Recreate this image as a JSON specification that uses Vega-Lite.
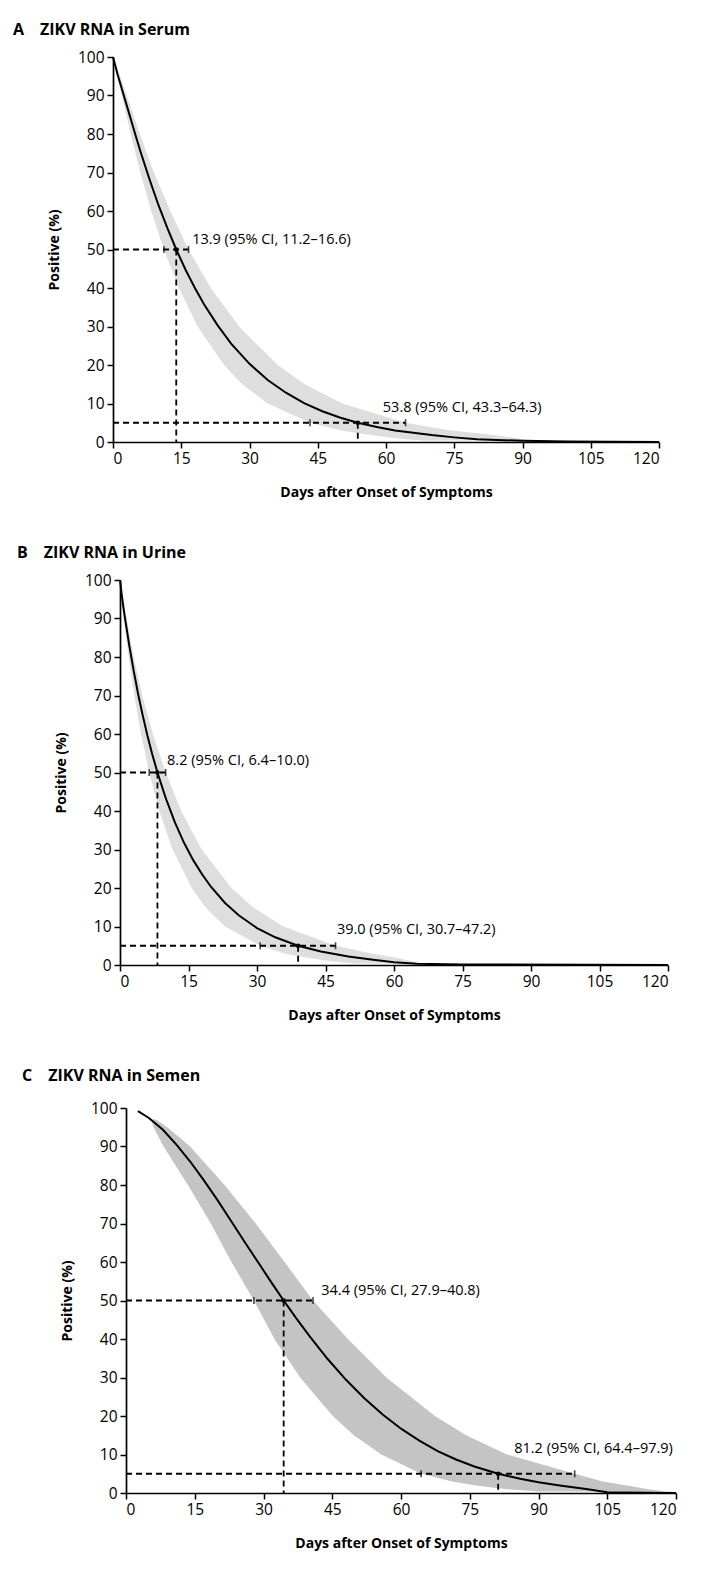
{
  "$schema": "https://vega.github.io/schema/vega-lite/v6.json",
  "background": "white",
  "padding": {"left": 12, "top": 22, "right": 0, "bottom": 0},
  "spacing": 45,
  "config": {
    "view": {"stroke": null},
    "font": "Open Sans",
    "axis": {
      "grid": false,
      "domainColor": "black",
      "domainWidth": 1.7,
      "tickColor": "black",
      "tickWidth": 1.5,
      "tickSize": 6,
      "labelColor": "black",
      "labelFont": "Open Sans",
      "labelFontSize": 15.5,
      "labelPadding": 3,
      "labelOverlap": false,
      "titleColor": "black",
      "titleFont": "Open Sans",
      "titleFontSize": 14,
      "titleFontWeight": "bold"
    },
    "axisX": {"titlePadding": 19},
    "axisY": {"titlePadding": 16},
    "title": {"anchor": "start", "frame": "group", "offset": 12, "font": "Open Sans", "fontSize": 16, "fontWeight": "bold", "color": "black"}
  },
  "datasets": {
    "curveA": [
      {"day": 0, "pct": 100}, {"day": 1, "pct": 95.5}, {"day": 2, "pct": 91.5}, {"day": 3, "pct": 87.5},
      {"day": 4, "pct": 83.5}, {"day": 5, "pct": 79.5}, {"day": 6, "pct": 75.6}, {"day": 8, "pct": 68.3},
      {"day": 10, "pct": 61.5}, {"day": 12, "pct": 55.4}, {"day": 13.9, "pct": 50}, {"day": 16, "pct": 44.6},
      {"day": 18, "pct": 40}, {"day": 20, "pct": 35.8}, {"day": 23, "pct": 30.3}, {"day": 26, "pct": 25.5},
      {"day": 30, "pct": 20.3}, {"day": 34, "pct": 16.1}, {"day": 38, "pct": 12.8}, {"day": 42, "pct": 10.1},
      {"day": 46, "pct": 8}, {"day": 50, "pct": 6.3}, {"day": 53.8, "pct": 5}, {"day": 58, "pct": 3.9},
      {"day": 62, "pct": 3}, {"day": 66, "pct": 2.4}, {"day": 70, "pct": 1.8}, {"day": 75, "pct": 1.2},
      {"day": 80, "pct": 0.7}, {"day": 90, "pct": 0.3}, {"day": 100, "pct": 0.15}, {"day": 120, "pct": 0}
    ],
    "bandA": [
      {"pct": 100, "lo": 0, "hi": 0}, {"pct": 99, "lo": 0.2, "hi": 0.4}, {"pct": 95, "lo": 0.9, "hi": 1.6},
      {"pct": 90, "lo": 1.9, "hi": 3.0}, {"pct": 80, "lo": 3.9, "hi": 5.9}, {"pct": 70, "lo": 6.0, "hi": 9.0},
      {"pct": 60, "lo": 8.4, "hi": 12.6}, {"pct": 50, "lo": 11.2, "hi": 16.6}, {"pct": 40, "lo": 14.5, "hi": 21.5},
      {"pct": 30, "lo": 18.6, "hi": 27.7}, {"pct": 20, "lo": 24.4, "hi": 36.2}, {"pct": 15, "lo": 28.4, "hi": 42.1},
      {"pct": 10, "lo": 34.0, "hi": 50.4}, {"pct": 5, "lo": 43.3, "hi": 64.3}, {"pct": 3, "lo": 50.1, "hi": 74.4},
      {"pct": 2, "lo": 55.4, "hi": 82.3}, {"pct": 1, "lo": 62.0, "hi": 89.0}, {"pct": 0.4, "lo": 68.0, "hi": 92.0}
    ],
    "guidesA": [
      {"x1": 0, "x2": 16.6, "y1": 50, "y2": 50}, {"x1": 13.9, "x2": 13.9, "y1": 50, "y2": 0},
      {"x1": 0, "x2": 64.3, "y1": 5, "y2": 5}, {"x1": 53.8, "x2": 53.8, "y1": 5, "y2": 0}
    ],
    "ciA": [{"day": 11.2, "pct": 50}, {"day": 16.6, "pct": 50}, {"day": 43.3, "pct": 5}, {"day": 64.3, "pct": 5}],
    "medA": [{"day": 13.9, "pct": 50}, {"day": 53.8, "pct": 5}],
    "labelsA": [
      {"day": 17.4, "pct": 52.5, "label": "13.9 (95% CI, 11.2–16.6)"},
      {"day": 59.3, "pct": 8.8, "label": "53.8 (95% CI, 43.3–64.3)"}
    ],
    "curveB": [
      {"day": 0, "pct": 100}, {"day": 0.5, "pct": 95}, {"day": 1, "pct": 90.8}, {"day": 2, "pct": 83.2},
      {"day": 3, "pct": 76.4}, {"day": 4, "pct": 70.2}, {"day": 5, "pct": 64.7}, {"day": 6, "pct": 59.6},
      {"day": 7, "pct": 55}, {"day": 8.2, "pct": 50}, {"day": 10, "pct": 43.4}, {"day": 12, "pct": 37.1},
      {"day": 14, "pct": 31.8}, {"day": 16, "pct": 27.3}, {"day": 18, "pct": 23.5}, {"day": 20, "pct": 20.2},
      {"day": 23, "pct": 16.1}, {"day": 26, "pct": 12.9}, {"day": 30, "pct": 9.6}, {"day": 34, "pct": 7.2},
      {"day": 39, "pct": 5}, {"day": 44, "pct": 3.5}, {"day": 50, "pct": 2.2}, {"day": 55, "pct": 1.4},
      {"day": 60, "pct": 0.7}, {"day": 65, "pct": 0.3}, {"day": 75, "pct": 0.15}, {"day": 120, "pct": 0}
    ],
    "bandB": [
      {"pct": 100, "lo": 0, "hi": 0}, {"pct": 99, "lo": 0.05, "hi": 0.15}, {"pct": 95, "lo": 0.35, "hi": 0.7},
      {"pct": 90, "lo": 0.8, "hi": 1.45}, {"pct": 80, "lo": 1.9, "hi": 3.0}, {"pct": 70, "lo": 3.15, "hi": 4.9},
      {"pct": 60, "lo": 4.6, "hi": 7.2}, {"pct": 50, "lo": 6.4, "hi": 10.0}, {"pct": 40, "lo": 8.6, "hi": 13.4},
      {"pct": 30, "lo": 11.5, "hi": 17.9}, {"pct": 20, "lo": 15.7, "hi": 24.4}, {"pct": 15, "lo": 18.7, "hi": 29.1},
      {"pct": 10, "lo": 23.0, "hi": 35.8}, {"pct": 5, "lo": 30.7, "hi": 47.2}, {"pct": 3, "lo": 36.0, "hi": 55.0},
      {"pct": 2, "lo": 40.4, "hi": 60.0}, {"pct": 1, "lo": 46.0, "hi": 64.0}, {"pct": 0.4, "lo": 51.0, "hi": 66.0}
    ],
    "guidesB": [
      {"x1": 0, "x2": 10, "y1": 50, "y2": 50}, {"x1": 8.2, "x2": 8.2, "y1": 50, "y2": 0},
      {"x1": 0, "x2": 47.2, "y1": 5, "y2": 5}, {"x1": 39, "x2": 39, "y1": 5, "y2": 0}
    ],
    "ciB": [{"day": 6.4, "pct": 50}, {"day": 10, "pct": 50}, {"day": 30.7, "pct": 5}, {"day": 47.2, "pct": 5}],
    "medB": [{"day": 8.2, "pct": 50}, {"day": 39, "pct": 5}],
    "labelsB": [
      {"day": 10.3, "pct": 53, "label": "8.2 (95% CI, 6.4–10.0)"},
      {"day": 47.5, "pct": 9, "label": "39.0 (95% CI, 30.7–47.2)"}
    ],
    "curveC": [
      {"day": 2.6, "pct": 99.2}, {"day": 5, "pct": 97.4}, {"day": 8, "pct": 94.4}, {"day": 11, "pct": 90.5},
      {"day": 14, "pct": 86.1}, {"day": 17, "pct": 81.2}, {"day": 20, "pct": 76}, {"day": 23, "pct": 70.5},
      {"day": 26, "pct": 65}, {"day": 29, "pct": 59.6}, {"day": 32, "pct": 54.2}, {"day": 34.4, "pct": 50},
      {"day": 37, "pct": 45.6}, {"day": 40, "pct": 40.8}, {"day": 44, "pct": 34.8}, {"day": 48, "pct": 29.4},
      {"day": 52, "pct": 24.6}, {"day": 56, "pct": 20.4}, {"day": 60, "pct": 16.7}, {"day": 64, "pct": 13.6},
      {"day": 68, "pct": 10.9}, {"day": 72, "pct": 8.7}, {"day": 76, "pct": 6.9}, {"day": 81.2, "pct": 5},
      {"day": 86, "pct": 3.7}, {"day": 90, "pct": 2.8}, {"day": 95, "pct": 1.9}, {"day": 100, "pct": 1.1},
      {"day": 105, "pct": 0.2}, {"day": 110, "pct": 0.1}, {"day": 120, "pct": 0}
    ],
    "bandC": [
      {"pct": 97, "lo": 5.5, "hi": 6.5}, {"pct": 95, "lo": 6.0, "hi": 9.0},
      {"pct": 90, "lo": 8.2, "hi": 14.0}, {"pct": 80, "lo": 13.5, "hi": 21.5}, {"pct": 70, "lo": 18.5, "hi": 28.3},
      {"pct": 60, "lo": 23.0, "hi": 34.6}, {"pct": 50, "lo": 27.9, "hi": 40.8}, {"pct": 40, "lo": 32.4, "hi": 48.4},
      {"pct": 30, "lo": 38.0, "hi": 56.8}, {"pct": 20, "lo": 45.1, "hi": 67.4}, {"pct": 15, "lo": 49.7, "hi": 74.2},
      {"pct": 10, "lo": 55.7, "hi": 83.1}, {"pct": 5, "lo": 64.4, "hi": 97.9}, {"pct": 3, "lo": 71.2, "hi": 104.0},
      {"pct": 2, "lo": 76.0, "hi": 109.0}, {"pct": 1, "lo": 83.0, "hi": 114.0}, {"pct": 0.4, "lo": 90.0, "hi": 118.0}
    ],
    "guidesC": [
      {"x1": 0, "x2": 40.8, "y1": 50, "y2": 50}, {"x1": 34.4, "x2": 34.4, "y1": 50, "y2": 0},
      {"x1": 0, "x2": 97.9, "y1": 5, "y2": 5}, {"x1": 81.2, "x2": 81.2, "y1": 5, "y2": 0}
    ],
    "ciC": [{"day": 27.9, "pct": 50}, {"day": 40.8, "pct": 50}, {"day": 64.4, "pct": 5}, {"day": 97.9, "pct": 5}],
    "medC": [{"day": 34.4, "pct": 50}, {"day": 81.2, "pct": 5}],
    "labelsC": [
      {"day": 42.6, "pct": 52.5, "label": "34.4 (95% CI, 27.9–40.8)"},
      {"day": 84.7, "pct": 11.5, "label": "81.2 (95% CI, 64.4–97.9)"}
    ]
  },
  "vconcat": [
    {
      "spacing": 0,
      "hconcat": [
        {"width": 1, "height": 1, "data": {"values": []}, "mark": "point", "encoding": {}},
        {
          "width": 546, "height": 385,
          "title": {"text": "A\u2003ZIKV RNA in Serum", "dx": -100},
          "layer": [
            {"data": {"name": "bandA"}, "mark": {"type": "area", "orient": "horizontal", "color": "#dedede"},
             "encoding": {
               "y": {"field": "pct", "type": "quantitative", "scale": {"domain": [0, 100], "nice": false}, "axis": {"values": [0,10,20,30,40,50,60,70,80,90,100], "tickCount": 11, "title": "Positive (%)"}},
               "x": {"field": "lo", "type": "quantitative", "scale": {"domain": [0, 120], "nice": false}, "axis": {"values": [0,15,30,45,60,75,90,105,120], "title": "Days after Onset of Symptoms"}},
               "x2": {"field": "hi"}}},
            {"data": {"name": "curveA"}, "mark": {"type": "line", "color": "black", "strokeWidth": 2},
             "encoding": {"x": {"field": "day", "type": "quantitative"}, "y": {"field": "pct", "type": "quantitative", "axis": {"values": [0,10,20,30,40,50,60,70,80,90,100], "tickCount": 11, "title": "Positive (%)"}}}},
            {"data": {"name": "guidesA"}, "mark": {"type": "rule", "color": "black", "strokeWidth": 1.8, "strokeDash": [6, 4]},
             "encoding": {"x": {"field": "x1", "type": "quantitative"}, "x2": {"field": "x2"}, "y": {"field": "y1", "type": "quantitative", "axis": {"values": [0,10,20,30,40,50,60,70,80,90,100], "tickCount": 11, "title": "Positive (%)"}}, "y2": {"field": "y2"}}},
            {"data": {"name": "ciA"}, "mark": {"type": "tick", "orient": "vertical", "size": 7, "thickness": 1.6, "color": "black"},
             "encoding": {"x": {"field": "day", "type": "quantitative"}, "y": {"field": "pct", "type": "quantitative", "axis": {"values": [0,10,20,30,40,50,60,70,80,90,100], "tickCount": 11, "title": "Positive (%)"}}}},
            {"data": {"name": "medA"}, "mark": {"type": "point", "filled": true, "size": 22, "color": "black", "opacity": 1},
             "encoding": {"x": {"field": "day", "type": "quantitative"}, "y": {"field": "pct", "type": "quantitative", "axis": {"values": [0,10,20,30,40,50,60,70,80,90,100], "tickCount": 11, "title": "Positive (%)"}}}},
            {"data": {"name": "labelsA"}, "mark": {"type": "text", "align": "left", "baseline": "middle", "fontSize": 14.5, "font": "Open Sans", "color": "black"},
             "encoding": {"x": {"field": "day", "type": "quantitative"}, "y": {"field": "pct", "type": "quantitative", "axis": {"values": [0,10,20,30,40,50,60,70,80,90,100], "tickCount": 11, "title": "Positive (%)"}}, "text": {"field": "label"}}}
          ]
        }
      ]
    },
    {
      "spacing": 0,
      "hconcat": [
        {"width": 5, "height": 1, "data": {"values": []}, "mark": "point", "encoding": {}},
        {
          "width": 548, "height": 385,
          "title": {"text": "B\u2003ZIKV RNA in Urine", "dx": -103},
          "layer": [
            {"data": {"name": "bandB"}, "mark": {"type": "area", "orient": "horizontal", "color": "#dedede"},
             "encoding": {
               "y": {"field": "pct", "type": "quantitative", "scale": {"domain": [0, 100], "nice": false}, "axis": {"values": [0,10,20,30,40,50,60,70,80,90,100], "tickCount": 11, "title": "Positive (%)"}},
               "x": {"field": "lo", "type": "quantitative", "scale": {"domain": [0, 120], "nice": false}, "axis": {"values": [0,15,30,45,60,75,90,105,120], "title": "Days after Onset of Symptoms"}},
               "x2": {"field": "hi"}}},
            {"data": {"name": "curveB"}, "mark": {"type": "line", "color": "black", "strokeWidth": 2},
             "encoding": {"x": {"field": "day", "type": "quantitative"}, "y": {"field": "pct", "type": "quantitative", "axis": {"values": [0,10,20,30,40,50,60,70,80,90,100], "tickCount": 11, "title": "Positive (%)"}}}},
            {"data": {"name": "guidesB"}, "mark": {"type": "rule", "color": "black", "strokeWidth": 1.8, "strokeDash": [6, 4]},
             "encoding": {"x": {"field": "x1", "type": "quantitative"}, "x2": {"field": "x2"}, "y": {"field": "y1", "type": "quantitative", "axis": {"values": [0,10,20,30,40,50,60,70,80,90,100], "tickCount": 11, "title": "Positive (%)"}}, "y2": {"field": "y2"}}},
            {"data": {"name": "ciB"}, "mark": {"type": "tick", "orient": "vertical", "size": 7, "thickness": 1.6, "color": "black"},
             "encoding": {"x": {"field": "day", "type": "quantitative"}, "y": {"field": "pct", "type": "quantitative", "axis": {"values": [0,10,20,30,40,50,60,70,80,90,100], "tickCount": 11, "title": "Positive (%)"}}}},
            {"data": {"name": "medB"}, "mark": {"type": "point", "filled": true, "size": 22, "color": "black", "opacity": 1},
             "encoding": {"x": {"field": "day", "type": "quantitative"}, "y": {"field": "pct", "type": "quantitative", "axis": {"values": [0,10,20,30,40,50,60,70,80,90,100], "tickCount": 11, "title": "Positive (%)"}}}},
            {"data": {"name": "labelsB"}, "mark": {"type": "text", "align": "left", "baseline": "middle", "fontSize": 14.5, "font": "Open Sans", "color": "black"},
             "encoding": {"x": {"field": "day", "type": "quantitative"}, "y": {"field": "pct", "type": "quantitative", "axis": {"values": [0,10,20,30,40,50,60,70,80,90,100], "tickCount": 11, "title": "Positive (%)"}}, "text": {"field": "label"}}}
          ]
        }
      ]
    },
    {
      "spacing": 0,
      "hconcat": [
        {"width": 10, "height": 1, "data": {"values": []}, "mark": "point", "encoding": {}},
        {
          "width": 550, "height": 385,
          "title": {"text": "C\u2003ZIKV RNA in Semen", "dx": -104, "offset": 17},
          "layer": [
            {"data": {"name": "bandC"}, "mark": {"type": "area", "orient": "horizontal", "color": "#c4c4c4"},
             "encoding": {
               "y": {"field": "pct", "type": "quantitative", "scale": {"domain": [0, 100], "nice": false}, "axis": {"values": [0,10,20,30,40,50,60,70,80,90,100], "tickCount": 11, "title": "Positive (%)"}},
               "x": {"field": "lo", "type": "quantitative", "scale": {"domain": [0, 120], "nice": false}, "axis": {"values": [0,15,30,45,60,75,90,105,120], "title": "Days after Onset of Symptoms"}},
               "x2": {"field": "hi"}}},
            {"data": {"name": "curveC"}, "mark": {"type": "line", "color": "black", "strokeWidth": 2},
             "encoding": {"x": {"field": "day", "type": "quantitative"}, "y": {"field": "pct", "type": "quantitative", "axis": {"values": [0,10,20,30,40,50,60,70,80,90,100], "tickCount": 11, "title": "Positive (%)"}}}},
            {"data": {"name": "guidesC"}, "mark": {"type": "rule", "color": "black", "strokeWidth": 1.8, "strokeDash": [6, 4]},
             "encoding": {"x": {"field": "x1", "type": "quantitative"}, "x2": {"field": "x2"}, "y": {"field": "y1", "type": "quantitative", "axis": {"values": [0,10,20,30,40,50,60,70,80,90,100], "tickCount": 11, "title": "Positive (%)"}}, "y2": {"field": "y2"}}},
            {"data": {"name": "ciC"}, "mark": {"type": "tick", "orient": "vertical", "size": 7, "thickness": 1.6, "color": "black"},
             "encoding": {"x": {"field": "day", "type": "quantitative"}, "y": {"field": "pct", "type": "quantitative", "axis": {"values": [0,10,20,30,40,50,60,70,80,90,100], "tickCount": 11, "title": "Positive (%)"}}}},
            {"data": {"name": "medC"}, "mark": {"type": "point", "filled": true, "size": 22, "color": "black", "opacity": 1},
             "encoding": {"x": {"field": "day", "type": "quantitative"}, "y": {"field": "pct", "type": "quantitative", "axis": {"values": [0,10,20,30,40,50,60,70,80,90,100], "tickCount": 11, "title": "Positive (%)"}}}},
            {"data": {"name": "labelsC"}, "mark": {"type": "text", "align": "left", "baseline": "middle", "fontSize": 14.5, "font": "Open Sans", "color": "black"},
             "encoding": {"x": {"field": "day", "type": "quantitative"}, "y": {"field": "pct", "type": "quantitative", "axis": {"values": [0,10,20,30,40,50,60,70,80,90,100], "tickCount": 11, "title": "Positive (%)"}}, "text": {"field": "label"}}}
          ]
        }
      ]
    }
  ]
}
